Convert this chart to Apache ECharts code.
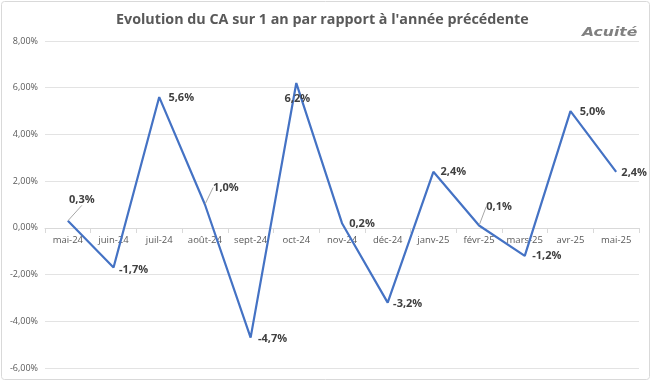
<!DOCTYPE html>
<html><head><meta charset="utf-8">
<script src="https://cdn.jsdelivr.net/npm/echarts@6/dist/echarts.min.js"></script>
<style>html,body{margin:0;padding:0;background:#fff}#c{width:657px;height:383px}</style>
</head><body><div id="c"></div>
<script>
const categories = ['mai-24','juin-24','juil-24','août-24','sept-24','oct-24','nov-24','déc-24','janv-25','févr-25','mars-25','avr-25','mai-25'];
const values = [0.3, -1.7, 5.6, 1.0, -4.7, 6.2, 0.2, -3.2, 2.4, 0.1, -1.2, 5.0, 2.4];
const yTicks = [-6, -4, -2, 0, 2, 4, 6, 8];
const titleText = "Evolution du CA sur 1 an par rapport à l'année précédente";

// label offsets (dx, dy) from point and whether a leader line is drawn
const labelOffsets = [[14,-21],[20,2],[22,1],[21,-17],[22,1],[1,16],[20,1],[20,1],[20,0],[20,-19],[22,0],[22,1],[18,1]];
const leaderIdx = [0, 3, 9];

const chart = echarts.init(document.getElementById('c'));
const fmt = v => v.toFixed(1).replace('.', ',') + '%';
const seriesData = values.map((v, i) => ({ value: v, labelLine: { show: leaderIdx.includes(i) } }));
chart.setOption({
  animation: false,
  title: { text: titleText, left: 111, top: 8,
    textStyle: { fontFamily: 'Open Sans', fontWeight: 'bold', fontSize: 14.3, color: '#595959' } },
  grid: { left: 45, right: 18, top: 41, bottom: 15, containLabel: false },
  xAxis: { type: 'category', data: categories, boundaryGap: true, position: 'bottom', offset: -140,
    axisLine: { onZero: false, lineStyle: { color: '#d9d9d9' } },
    axisTick: { show: true, length: 5, lineStyle: { color: '#d9d9d9' } },
    axisLabel: { interval: 0, color: '#595959', fontFamily: 'Open Sans', fontSize: 9.5, margin: 7 } },
  yAxis: { type: 'value', min: yTicks[0], max: yTicks[yTicks.length-1], interval: 2,
    axisLine: { show: false }, axisTick: { show: false },
    splitLine: { lineStyle: { color: '#e3e3e3' } },
    axisLabel: { color: '#595959', fontFamily: 'Open Sans', fontSize: 9, margin: 7,
      formatter: v => v.toFixed(2).replace('.', ',') + '%' } },
  series: [{
    type: 'line', data: seriesData, symbol: 'circle', symbolSize: 1, showSymbol: true,
    itemStyle: { color: 'rgba(68,114,196,0)', borderWidth: 0 },
    lineStyle: { color: '#4472C4', width: 2.2 },
    label: { show: true, position: 'inside', formatter: p => fmt(p.value),
      color: '#404040', fontFamily: 'Open Sans', fontWeight: 'bold', fontSize: 11 },
    labelLine: { lineStyle: { color: '#a6a6a6', width: 1 } },
    labelLayout: p => { const o = labelOffsets[p.dataIndex]; return { dx: o[0], dy: o[1] }; }
  }],
  graphic: [
    { type: 'rect', shape: { x: 1.5, y: 1.5, width: 648, height: 378, r: 3 }, style: { fill: 'none', stroke: '#d9d9d9', lineWidth: 1 }, silent: true },
    { type: 'text', x: 582, y: 27, scaleX: 1.3, style: { text: 'Acuité', fontFamily: 'DejaVu Sans', fontWeight: 'bold', fontStyle: 'italic', fontSize: 12, fill: '#808080' } }
  ]
});
</script></body></html>
